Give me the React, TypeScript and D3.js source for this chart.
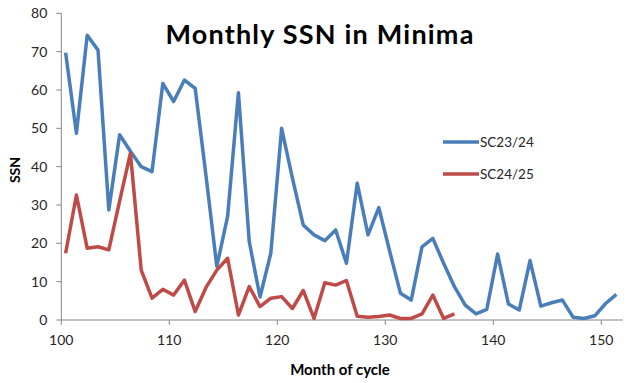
import React from "react";
import * as d3 from "d3";

const startMonth = 100.4;
const sc2324: number[] = [
  69.7, 48.7, 74.3, 70.4, 28.7, 48.3, 44, 40, 38.7, 61.7,
  57, 62.6, 60.4, 37.6, 14, 27, 59.3, 20.5, 6, 17.4,
  50, 37, 24.8, 22.2, 20.7, 23.5, 14.8, 35.7, 22.2, 29.3,
  18, 7, 5.2, 19.1, 21.3, 14.8, 8.7, 3.9, 1.6, 2.8,
  17.2, 4.2, 2.6, 15.5, 3.6, 4.5, 5.2, 0.7, 0.4, 1.1,
  4.3, 6.7,
];
const sc2425: number[] = [
  17.4, 32.6, 18.7, 19.1, 18.3, 31, 43.5, 13, 5.7, 8,
  6.5, 10.4, 2.2, 8.5, 13, 16.1, 1.3, 8.7, 3.5, 5.7,
  6.1, 3, 7.7, 0.4, 9.7, 9.1, 10.3, 1, 0.7, 0.9,
  1.3, 0.4, 0.4, 1.6, 6.5, 0.4, 1.6,
];
const seriesNames = ["SC23/24", "SC24/25"];
const seriesColors = ["#4a7ebb", "#be4b48"];
const xTicks = [100, 110, 120, 130, 140, 150];
const yTicks = [0, 10, 20, 30, 40, 50, 60, 70, 80];

const W = 640;
const H = 383;
const FONT = "Lato, 'Open Sans', sans-serif";

export default function App() {
  const x = d3.scaleLinear().domain([100, 152]).range([61.3, 622.9]);
  const y = d3.scaleLinear().domain([0, 80]).range([320, 13.3]);
  const line = d3
    .line<number>()
    .x((_, i) => x(startMonth + i))
    .y((d) => y(d));
  const series = [sc2324, sc2425];
  const axisColor = "#868686";
  const textColor = "#262626";

  return (
    <svg
      width={W}
      height={H}
      style={{ position: "absolute", left: 0, top: 0, background: "#fff" }}
      fontFamily={FONT}
    >
      <rect x={0} y={0} width={W} height={H} fill="#fff" />
      {/* axes */}
      <line x1={x(100)} x2={x(152)} y1={y(0)} y2={y(0)} stroke={axisColor} strokeWidth={1} />
      <line x1={x(100)} x2={x(100)} y1={y(0)} y2={y(80)} stroke={axisColor} strokeWidth={1} />
      {yTicks.map((t) => (
        <g key={"y" + t}>
          <line x1={x(100) - 5} x2={x(100)} y1={y(t)} y2={y(t)} stroke={axisColor} />
          <text
            x={x(100) - 14}
            y={y(t)}
            dy="0.35em"
            textAnchor="end"
            fontSize={14}
            fill={textColor}
          >
            {t}
          </text>
        </g>
      ))}
      {xTicks.map((t) => (
        <g key={"x" + t}>
          <line x1={x(t)} x2={x(t)} y1={y(0)} y2={y(0) + 5} stroke={axisColor} />
          <text x={x(t)} y={345} textAnchor="middle" fontSize={14} fill={textColor}>
            {t}
          </text>
        </g>
      ))}
      {/* series */}
      {series.map((s, k) => (
        <path
          key={seriesNames[k]}
          d={line(s) || ""}
          fill="none"
          stroke={seriesColors[k]}
          strokeWidth={3.5}
          strokeLinejoin="round"
        />
      ))}
      {/* title */}
      <text
        x={320}
        y={44}
        textAnchor="middle"
        fontSize={27}
        fontWeight="bold"
        letterSpacing={1.2}
        fill="#000"
      >
        Monthly SSN in Minima
      </text>
      {/* axis titles */}
      <text x={340} y={375} textAnchor="middle" fontSize={15} fontWeight="bold" fill="#000">
        Month of cycle
      </text>
      <text
        transform="translate(20,170) rotate(-90)"
        textAnchor="middle"
        fontSize={14}
        fontWeight="bold"
        fill="#000"
      >
        SSN
      </text>
      {/* legend */}
      {seriesNames.map((n, k) => (
        <g key={"leg" + n} transform={`translate(0, ${142 + k * 32})`}>
          <line x1={443} x2={479} y1={0} y2={0} stroke={seriesColors[k]} strokeWidth={3.5} />
          <text x={480} y={0} dy="0.35em" fontSize={13.5} fill={textColor}>
            {n}
          </text>
        </g>
      ))}
    </svg>
  );
}
